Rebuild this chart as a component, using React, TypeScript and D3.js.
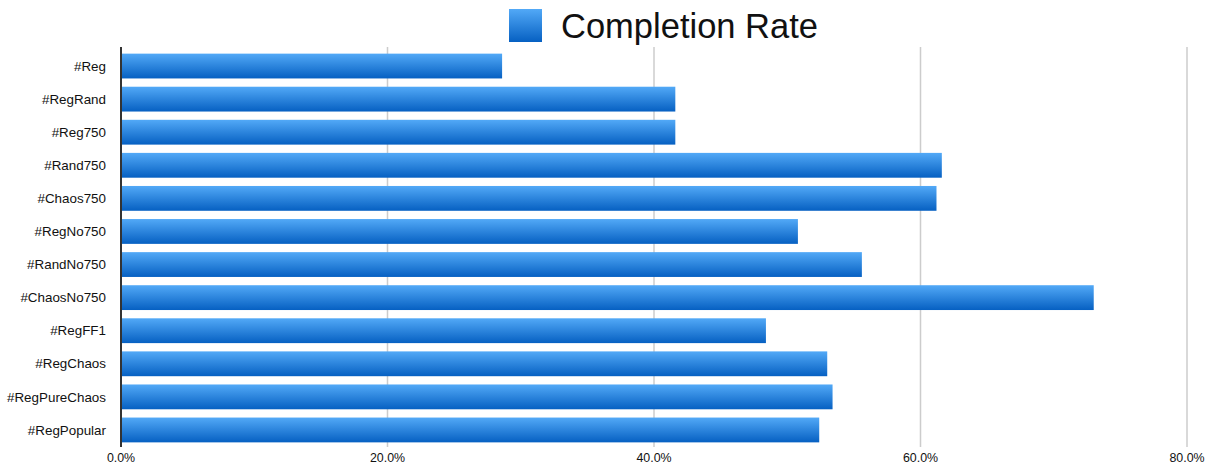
import React from "react";
import * as d3 from "d3";

const categories = ["#Reg", "#RegRand", "#Reg750", "#Rand750", "#Chaos750", "#RegNo750", "#RandNo750", "#ChaosNo750", "#RegFF1", "#RegChaos", "#RegPureChaos", "#RegPopular"];
const completionRate = [28.6, 41.6, 41.6, 61.6, 61.2, 50.8, 55.6, 73.0, 48.4, 53.0, 53.4, 52.4];
const xTicks = [0, 20, 40, 60, 80];
const seriesName = "Completion Rate";

const W = 1207, H = 466;
const left = 121, right = 1187, top = 49.5, bottom = 446.5;

export default function App() {
  const x = d3.scaleLinear().domain([0, 80]).range([left, right]);
  const y = d3.scaleBand().domain(categories).range([top, bottom]).paddingInner(0.25).paddingOuter(0.125);
  const font = "Liberation Sans, Arial, sans-serif";
  return (
    <svg width={W} height={H} style={{ position: "absolute", left: 0, top: 0 }} fontFamily={font}>
      <defs>
        <linearGradient id="barGrad" x1="0" y1="0" x2="0" y2="1">
          <stop offset="0" stopColor="#52a9f7" />
          <stop offset="1" stopColor="#0660c2" />
        </linearGradient>
      </defs>
      <rect x={0} y={0} width={W} height={H} fill="#fff" />
      {xTicks.slice(1).map((t) => (
        <line key={t} x1={x(t)} x2={x(t)} y1={47} y2={447} stroke="#cccccc" strokeWidth={1.5} />
      ))}
      {categories.map((c, i) => (
        <rect key={c} x={x(0)} y={y(c)!} width={x(completionRate[i]) - x(0)} height={y.bandwidth()} fill="url(#barGrad)" />
      ))}
      <line x1={left} x2={left} y1={47} y2={447} stroke="#333" strokeWidth={2} />
      {categories.map((c) => (
        <text key={c} x={106} y={y(c)! + y.bandwidth() / 2} dy="0.35em" textAnchor="end" fontSize={13.4} fill="#111">{c}</text>
      ))}
      {xTicks.map((t) => (
        <text key={t} x={x(t)} y={462} textAnchor="middle" fontSize={12.4} fill="#111">{t.toFixed(1) + "%"}</text>
      ))}
      <rect x={509} y={9} width={33} height={33} fill="url(#barGrad)" />
      <text x={561} y={38} fontSize={34.5} fill="#111">{seriesName}</text>
    </svg>
  );
}
